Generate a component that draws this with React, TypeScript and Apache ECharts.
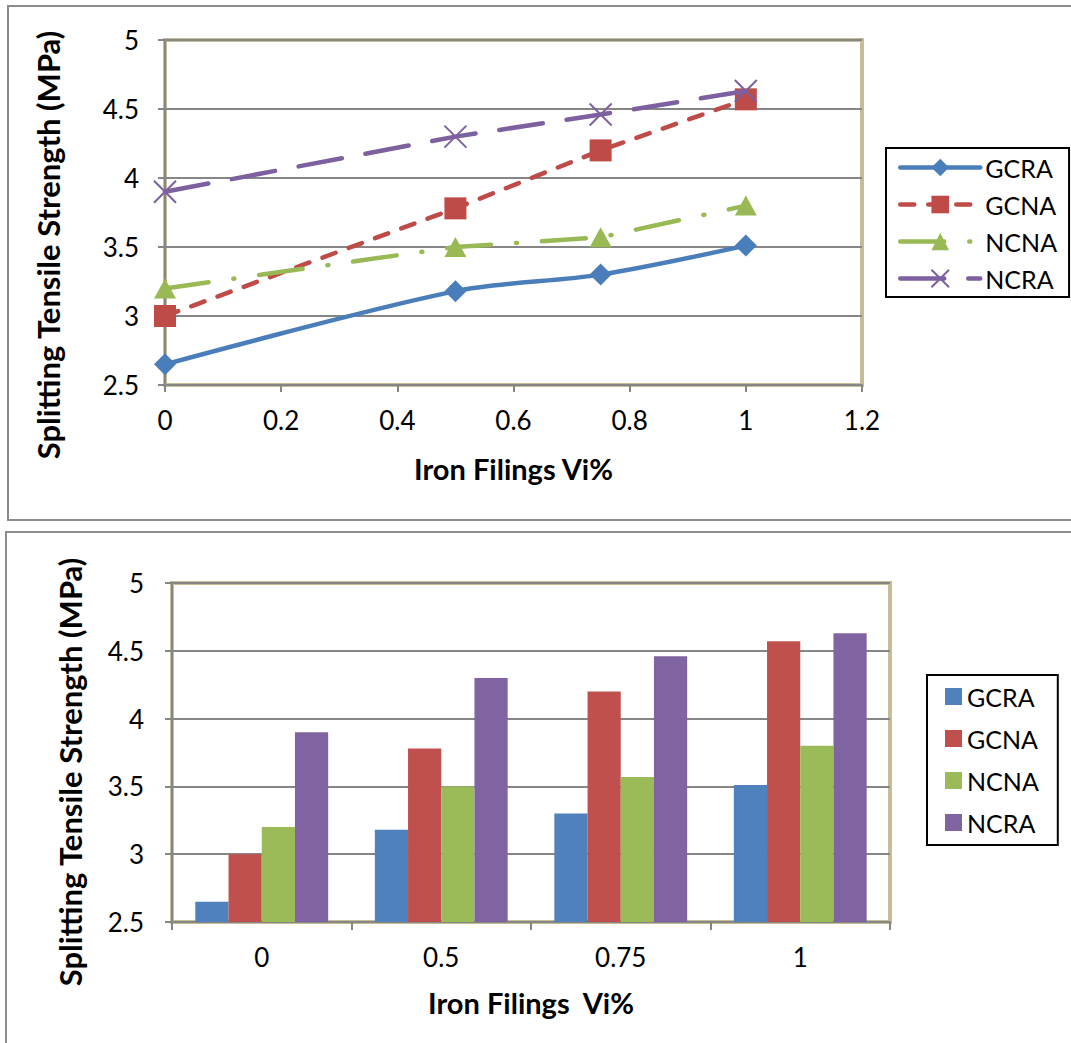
import React, { useEffect, useRef } from "react";
import * as echarts from "echarts";

const xValues = [0, 0.5, 0.75, 1];
const barCategories = ["0", "0.5", "0.75", "1"];
const seriesNames = ["GCRA", "GCNA", "NCNA", "NCRA"];
const gcra = [2.65, 3.18, 3.3, 3.51];
const gcna = [3.0, 3.78, 4.2, 4.57];
const ncna = [3.2, 3.5, 3.57, 3.8];
const ncra = [3.9, 4.3, 4.46, 4.63];
const allValues = [gcra, gcna, ncna, ncra];
const yTitle = "Splitting Tensile Strength (MPa)";

const lineColors = ["#4A7EBB", "#BE4B48", "#98B954", "#7D60A0"];
const barColors = ["#4F81BD", "#C0504D", "#9BBB59", "#8064A2"];
const FONT = "Lato, 'Open Sans', sans-serif";
const TAN = "#C4BD97";
const GRID_GREY = "#868686";
const TICK_FONT = 26;
const TITLE_FONT = 29;
const YTITLE_FONT = 31;
const LEGEND_FONT = 25;

function yTitleGraphic(x: number, y: number) {
  return {
    type: "text",
    x,
    y,
    rotation: Math.PI / 2,
    silent: true,
    style: {
      text: yTitle,
      fontFamily: FONT,
      fontSize: YTITLE_FONT,
      fontWeight: "bold",
      fill: "#000",
      align: "center",
      verticalAlign: "middle",
    },
  };
}

function yAxisCommon(labelMargin: number) {
  return {
    type: "value",
    min: 2.5,
    max: 5,
    interval: 0.5,
    axisLine: { show: true, lineStyle: { color: GRID_GREY, width: 2 } },
    axisTick: { show: true, length: 7, lineStyle: { color: GRID_GREY, width: 2 } },
    axisLabel: {
      margin: labelMargin,
      fontFamily: FONT,
      fontSize: TICK_FONT,
      color: "#000",
      formatter: (v: number) => String(v),
    },
    splitLine: { show: true, lineStyle: { color: GRID_GREY, width: 2 } },
  };
}

function LineChart() {
  const ref = useRef<HTMLDivElement>(null);
  useEffect(() => {
    const chart = echarts.init(ref.current!, undefined, { renderer: "svg" });
    const symbols = ["diamond", "rect", "triangle", "path://M0,0L10,10M10,0L0,10"];
    const dashTypes: any[] = ["solid", [14, 14], [44, 25, 1, 25], [44, 24]];
    const series = allValues.map((vals, i) => ({
      name: seriesNames[i],
      type: "line",
      data: xValues.map((x, j) => [x, vals[j]]),
      smooth: i === 0 ? 0.3 : false,
      symbol: symbols[i],
      symbolSize: i === 2 ? [22, 20] : 22,
      lineStyle: { color: lineColors[i], width: 4.5, type: dashTypes[i], cap: "round" },
      itemStyle:
        i === 3
          ? { color: "rgba(0,0,0,0)", borderColor: lineColors[i], borderWidth: 2 }
          : { color: lineColors[i] },
      z: 3 + i,
    }));
    chart.setOption({
      animation: false,
      backgroundColor: "#fff",
      graphic: [
        {
          type: "rect",
          shape: { x: 8, y: 6, width: 1100, height: 514 },
          style: { fill: "none", stroke: "#8C8C8C", lineWidth: 2 },
          silent: true,
          z: -1,
        },
        yTitleGraphic(48, 245),
      ],
      grid: {
        left: 165,
        top: 40,
        width: 697,
        height: 345,
        show: true,
        borderColor: TAN,
        borderWidth: 4,
        backgroundColor: "#fff",
      },
      legend: {
        orient: "vertical",
        left: 886,
        top: 148,
        padding: [7, 12, 6, 12],
        itemWidth: 80,
        itemHeight: 22,
        itemGap: 12,
        borderColor: "#000",
        borderWidth: 2,
        lineStyle: { width: "inherit", type: "inherit", cap: "round" },
        textStyle: { fontFamily: FONT, fontSize: LEGEND_FONT, color: "#000" },
        data: seriesNames,
      },
      xAxis: {
        type: "value",
        min: 0,
        max: 1.2,
        interval: 0.2,
        name: "Iron Filings Vi%",
        nameLocation: "middle",
        nameGap: 69,
        nameTextStyle: { fontFamily: FONT, fontSize: TITLE_FONT, fontWeight: "bold", color: "#000" },
        axisLine: { show: true, onZero: false, lineStyle: { color: GRID_GREY, width: 2 } },
        axisTick: { show: true, length: 7, lineStyle: { color: GRID_GREY, width: 2 } },
        axisLabel: {
          margin: 22,
          fontFamily: FONT,
          fontSize: TICK_FONT,
          color: "#000",
          formatter: (v: number) => String(Math.round(v * 10) / 10),
        },
        splitLine: { show: false },
      },
      yAxis: yAxisCommon(26),
      series,
    });
    return () => chart.dispose();
  }, []);
  return (
    <div ref={ref} style={{ position: "absolute", left: 0, top: 0, width: 1071, height: 526 }} />
  );
}

function BarChart() {
  const ref = useRef<HTMLDivElement>(null);
  useEffect(() => {
    const chart = echarts.init(ref.current!, undefined, { renderer: "svg" });
    const series = allValues.map((vals, i) => ({
      name: seriesNames[i],
      type: "bar",
      data: vals,
      barGap: "0%",
      barCategoryGap: "26%",
      itemStyle: { color: barColors[i] },
    }));
    chart.setOption({
      animation: false,
      backgroundColor: "#fff",
      graphic: [
        {
          type: "rect",
          shape: { x: 6, y: 6, width: 1100, height: 600 },
          style: { fill: "none", stroke: "#8C8C8C", lineWidth: 2 },
          silent: true,
          z: -1,
        },
        yTitleGraphic(70, 246),
      ],
      grid: {
        left: 172,
        top: 57,
        width: 718,
        height: 339,
        show: true,
        borderColor: TAN,
        borderWidth: 4,
        backgroundColor: "#fff",
      },
      legend: {
        orient: "vertical",
        left: 927,
        top: 149,
        padding: [9, 19, 10, 18],
        itemWidth: 17,
        itemHeight: 17,
        itemGap: 17,
        icon: "rect",
        borderColor: "#000",
        borderWidth: 2,
        textStyle: { fontFamily: FONT, fontSize: LEGEND_FONT, color: "#000" },
        data: seriesNames,
      },
      xAxis: {
        type: "category",
        data: barCategories,
        name: "Iron Filings  Vi%",
        nameLocation: "middle",
        nameGap: 66,
        nameTextStyle: { fontFamily: FONT, fontSize: TITLE_FONT, fontWeight: "bold", color: "#000" },
        axisLine: { show: true, lineStyle: { color: GRID_GREY, width: 2 } },
        axisTick: { show: true, length: 8, lineStyle: { color: GRID_GREY, width: 2 } },
        axisLabel: { margin: 22, fontFamily: FONT, fontSize: TICK_FONT, color: "#000" },
        splitLine: { show: false },
      },
      yAxis: yAxisCommon(28),
      series,
    });
    return () => chart.dispose();
  }, []);
  return (
    <div ref={ref} style={{ position: "absolute", left: 0, top: 526, width: 1071, height: 517 }} />
  );
}

export default function App() {
  return (
    <div style={{ position: "absolute", left: 0, top: 0, width: 1071, height: 1043 }}>
      <LineChart />
      <BarChart />
    </div>
  );
}
